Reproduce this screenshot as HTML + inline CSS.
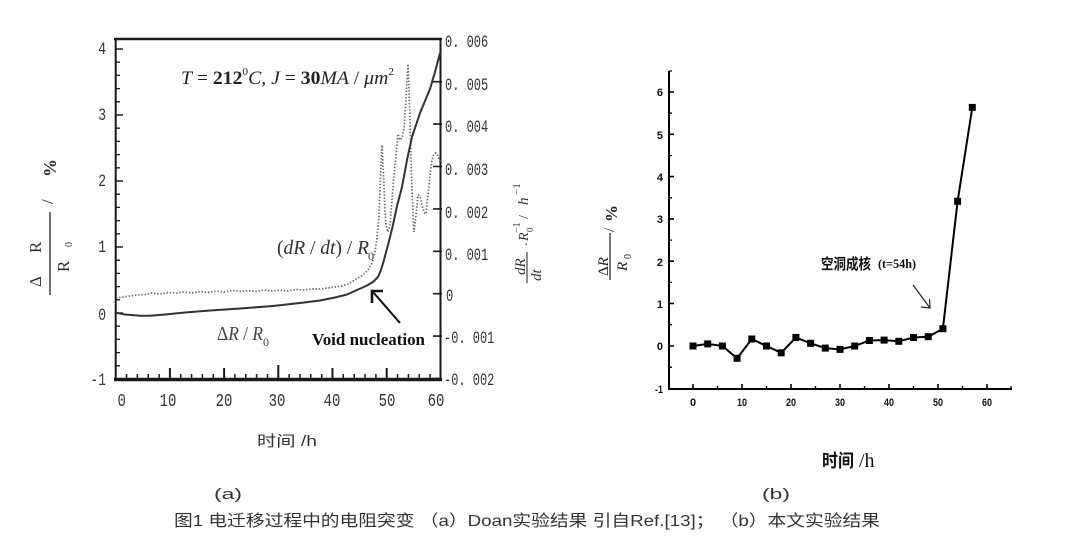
<!DOCTYPE html>
<html><head><meta charset="utf-8">
<style>
html,body{margin:0;padding:0;background:#fff;}
svg{display:block;}
.mono{font-family:"Liberation Mono","Noto Sans CJK SC",monospace;fill:#333;}
.ser{font-family:"Liberation Serif","Noto Serif CJK SC",serif;}
.cjk{font-family:"Liberation Sans","Noto Sans CJK SC",sans-serif;}
</style></head>
<body>
<svg width="1080" height="549" viewBox="0 0 1080 549" xmlns="http://www.w3.org/2000/svg">
<rect width="1080" height="549" fill="#fff"/>

<!-- ================= LEFT PANEL ================= -->
<g stroke="#1a1a1a" fill="none">
  <line x1="114" y1="39" x2="442" y2="39" stroke-width="2.6"/>
  <line x1="115.7" y1="38" x2="115.7" y2="381" stroke-width="2"/>
  <line x1="440.5" y1="38" x2="440.5" y2="381" stroke-width="2"/>
  <line x1="114" y1="379.5" x2="442" y2="379.5" stroke-width="3.4"/>
  <path stroke-width="1.6" d="M116 49h7M116 115h7M116 181h7M116 247h7M116 313h7"/>
  <path stroke-width="1.3" d="M116 365.8h4M116 352.6h4M116 339.4h4M116 326.2h4M116 299.8h4M116 286.6h4M116 273.4h4M116 260.2h4M116 233.8h4M116 220.6h4M116 207.4h4M116 194.2h4M116 167.8h4M116 154.6h4M116 141.4h4M116 128.2h4M116 101.8h4M116 88.6h4M116 75.4h4M116 62.2h4"/>
  <path stroke-width="2" d="M169.9 378v-10M224.1 378v-10M278.3 378v-13M332.5 378v-10M386.7 378v-10"/>
  <path stroke-width="1.5" d="M126.5 378v-4M137.4 378v-4M148.2 378v-4M159.1 378v-4M180.7 378v-4M191.6 378v-4M202.4 378v-4M213.3 378v-4M234.9 378v-4M245.8 378v-4M256.6 378v-4M267.5 378v-4M289.1 378v-4M300 378v-4M310.8 378v-4M321.7 378v-4M343.3 378v-4M354.2 378v-4M365 378v-4M375.9 378v-4M397.5 378v-4M408.4 378v-4M419.2 378v-4M430.1 378v-4"/>
  <path stroke-width="1.6" d="M433 378.5h9M433 336.1h9M433 293.7h9M433 251.3h9M433 208.9h9M433 166.5h9M433 124.1h9M433 81.7h9"/>
</g>

<g class="mono" font-size="13" text-anchor="end">
  <text transform="translate(106,54) scale(1,1.35)">4</text>
  <text transform="translate(106,120) scale(1,1.35)">3</text>
  <text transform="translate(106,186) scale(1,1.35)">2</text>
  <text transform="translate(106,252) scale(1,1.35)">1</text>
  <text transform="translate(106,320) scale(1,1.35)">0</text>
  <text transform="translate(106,385) scale(1,1.35)">-1</text>
</g>
<g class="mono" font-size="14" text-anchor="middle">
  <text transform="translate(121.7,406) scale(1,1.3)">0</text>
  <text transform="translate(168,406) scale(1,1.3)">10</text>
  <text transform="translate(224,406) scale(1,1.3)">20</text>
  <text transform="translate(277,406) scale(1,1.3)">30</text>
  <text transform="translate(332,406) scale(1,1.3)">40</text>
  <text transform="translate(387,406) scale(1,1.3)">50</text>
  <text transform="translate(436,406) scale(1,1.3)">60</text>
</g>
<g class="mono" font-size="12">
  <text transform="translate(445,47) scale(1,1.5)">0. 006</text>
  <text transform="translate(445,90) scale(1,1.5)">0. 005</text>
  <text transform="translate(445,132) scale(1,1.5)">0. 004</text>
  <text transform="translate(445,175) scale(1,1.5)">0. 003</text>
  <text transform="translate(445,218) scale(1,1.5)">0. 002</text>
  <text transform="translate(445,260) scale(1,1.5)">0. 001</text>
  <text transform="translate(446,301) scale(1,1.5)">0</text>
  <text transform="translate(444,343) scale(1,1.5)">-0. 001</text>
  <text transform="translate(444,385) scale(1,1.5)">-0. 002</text>
</g>

<text class="cjk" x="257" y="446" font-size="15" fill="#333" textLength="60" lengthAdjust="spacingAndGlyphs">时间 /h</text>

<g transform="translate(50,295) rotate(-90)" class="ser" fill="#333">
  <line x1="0" y1="0" x2="83" y2="0" stroke="#444" stroke-width="1.5"/>
  <text x="8" y="-9" font-size="17">Δ</text>
  <text x="42" y="-9" font-size="17">R</text>
  <text x="23" y="19" font-size="17">R</text>
  <text x="48" y="22" font-size="10">0</text>
  <text x="91" y="3" font-size="17">/</text>
  <text x="118" y="6" font-size="18" font-weight="bold">%</text>
</g>

<g transform="translate(527,283) rotate(-90)" class="ser" fill="#333">
  <line x1="0" y1="0" x2="31" y2="0" stroke="#444" stroke-width="1.2"/>
  <text x="8" y="-2" font-size="15" font-style="italic">dR</text>
  <text x="2" y="14" font-size="15" font-style="italic">dt</text>
  <text x="37" y="0" font-size="14">.</text>
  <text x="42" y="1" font-size="14" font-style="italic">R</text>
  <text x="51" y="6" font-size="9">0</text>
  <text x="50" y="-7" font-size="10">−1</text>
  <text x="64" y="1" font-size="14">/</text>
  <text x="78" y="1" font-size="15" font-style="italic">h</text>
  <text x="88" y="-7" font-size="11">−1</text>
</g>

<text class="ser" x="181" y="84" font-size="19" fill="#222" textLength="213" lengthAdjust="spacingAndGlyphs"><tspan font-style="italic">T</tspan> = <tspan font-weight="bold">212</tspan><tspan dy="-9" font-size="11">0</tspan><tspan dy="9" font-style="italic">C</tspan>, <tspan font-style="italic">J</tspan> = <tspan font-weight="bold">30</tspan><tspan font-style="italic">MA</tspan> / <tspan font-style="italic">μm</tspan><tspan dy="-9" font-size="11">2</tspan></text>

<text class="ser" x="277" y="254" font-size="20" fill="#333" textLength="92" lengthAdjust="spacingAndGlyphs">(<tspan font-style="italic">dR</tspan> / <tspan font-style="italic">dt</tspan>) / <tspan font-style="italic">R</tspan></text>
<text class="ser" x="368" y="260" font-size="12" fill="#333">0</text>

<text class="ser" x="217" y="340" font-size="20" fill="#444" textLength="46" lengthAdjust="spacingAndGlyphs">Δ<tspan font-style="italic">R</tspan> / <tspan font-style="italic">R</tspan></text>
<text class="ser" x="263" y="346" font-size="12" fill="#444">0</text>

<text class="ser" x="312" y="345" font-size="17" font-weight="bold" fill="#111" textLength="113" lengthAdjust="spacingAndGlyphs">Void nucleation</text>
<g stroke="#111" fill="none">
  <line x1="400" y1="323" x2="373" y2="292" stroke-width="2"/>
  <polyline points="372,303 372,291 383,291" stroke-width="2.6"/>
</g>

<polyline fill="none" stroke="#666" stroke-width="1.7" stroke-dasharray="1.4 1.8"
 points="116,298 123,297 130,296 137,295 145,294.5 152,293 160,294 168,292.5 176,293 184,292 192,293 200,291.5 208,292.5 216,291 224,292 232,290.5 240,291.5 248,290.5 256,291.5 264,290 272,291 280,290 288,291 296,289.5 304,290 312,289 320,289 328,288 335,287 342,286 348,284 353,281 358,278 363,275 368,270 372,263 375,252 377,238 379,215 380,190 381,165 382,145 383.5,175 385,210 386,226 388,232 390,225 392,200 394,175 396,155 398,134 400,140 402,138 404,128 406,100 407,80 408,64 409,90 410,120 411,160 412,190 413,215 414,232 416,215 418,195 420,196 422,205 424,212 426,214 428,195 430,175 432,160 434,154 436,153 438,156 440,162"/>

<polyline fill="none" stroke="#333" stroke-width="2" stroke-linejoin="round"
 points="115.7,312.7 125,314.5 140,315.8 150,315.8 165,314.5 185,312.5 210,310.5 240,308.5 273,306 300,303 320,300.5 335,297.5 347,294.5 357,290 366,286 373,282 378,277 381,270 384,260 388,245 393,225 397,206 402,187 407,160 412,137 416,125 420,113 425,101 430,89 435,72 440,53"/>

<!-- ================= RIGHT PANEL ================= -->
<g stroke="#000" fill="none">
  <line x1="669" y1="71" x2="669" y2="390" stroke-width="2"/>
  <line x1="668" y1="389" x2="1012" y2="389" stroke-width="2"/>
  <path stroke-width="1.6" d="M669 92h5M669 134.3h5M669 176.6h5M669 218.9h5M669 261.2h5M669 303.5h5M669 346h5"/>
  <path stroke-width="1.3" d="M669 71h3M669 113.2h3M669 155.5h3M669 197.8h3M669 240.1h3M669 282.4h3M669 324.7h3M669 367.2h3"/>
  <path stroke-width="1.6" d="M693 389v-5M742 389v-5M791 389v-5M840 389v-5M889 389v-5M938 389v-5M987 389v-5"/>
  <path stroke-width="1.3" d="M717.5 389v-3M766.5 389v-3M815.5 389v-3M864.5 389v-3M913.5 389v-3M962.5 389v-3M1011 389v-3"/>
</g>

<g font-family="Liberation Sans, sans-serif" font-weight="bold" font-size="11" fill="#111" text-anchor="end">
  <text x="663" y="96">6</text>
  <text x="663" y="139">5</text>
  <text x="663" y="181">4</text>
  <text x="663" y="223">3</text>
  <text x="663" y="266">2</text>
  <text x="663" y="308">1</text>
  <text x="663" y="350">0</text>
  <text x="663" y="393" textLength="8" lengthAdjust="spacingAndGlyphs">-1</text>
</g>
<g font-family="Liberation Sans, sans-serif" font-weight="bold" font-size="11" fill="#111" text-anchor="middle">
  <text x="693" y="406">0</text>
  <text x="742" y="406" textLength="10" lengthAdjust="spacingAndGlyphs">10</text>
  <text x="791" y="406" textLength="10" lengthAdjust="spacingAndGlyphs">20</text>
  <text x="840" y="406" textLength="10" lengthAdjust="spacingAndGlyphs">30</text>
  <text x="889" y="406" textLength="10" lengthAdjust="spacingAndGlyphs">40</text>
  <text x="938" y="406" textLength="10" lengthAdjust="spacingAndGlyphs">50</text>
  <text x="987" y="406" textLength="10" lengthAdjust="spacingAndGlyphs">60</text>
</g>

<polyline fill="none" stroke="#000" stroke-width="2" stroke-linejoin="round"
 points="693,346 707.7,343.9 722.4,346 737.1,358.3 751.8,339 766.5,346 781.2,352.8 795.9,337.5 810.6,343.3 825.3,348.1 840,349.4 854.7,346 869.4,340.5 884.1,340.1 898.8,341.3 913.5,337.5 928.2,336.7 942.9,328.7 957.6,201.3 972.3,107.4"/>
<g fill="#000">
  <rect x="689.5" y="342.5" width="7" height="7"/>
  <rect x="704.2" y="340.4" width="7" height="7"/>
  <rect x="718.9" y="342.5" width="7" height="7"/>
  <rect x="733.6" y="354.8" width="7" height="7"/>
  <rect x="748.3" y="335.5" width="7" height="7"/>
  <rect x="763" y="342.5" width="7" height="7"/>
  <rect x="777.7" y="349.3" width="7" height="7"/>
  <rect x="792.4" y="334" width="7" height="7"/>
  <rect x="807.1" y="339.8" width="7" height="7"/>
  <rect x="821.8" y="344.6" width="7" height="7"/>
  <rect x="836.5" y="345.9" width="7" height="7"/>
  <rect x="851.2" y="342.5" width="7" height="7"/>
  <rect x="865.9" y="337" width="7" height="7"/>
  <rect x="880.6" y="336.6" width="7" height="7"/>
  <rect x="895.3" y="337.8" width="7" height="7"/>
  <rect x="910" y="334" width="7" height="7"/>
  <rect x="924.7" y="333.2" width="7" height="7"/>
  <rect x="939.4" y="325.2" width="7" height="7"/>
  <rect x="954.1" y="197.8" width="7" height="7"/>
  <rect x="968.8" y="103.9" width="7" height="7"/>
</g>

<text x="821" y="269" font-family="Liberation Sans, 'Noto Sans CJK SC', sans-serif" font-weight="bold" font-size="15" fill="#111" textLength="50" lengthAdjust="spacingAndGlyphs">空洞成核</text>
<text x="878" y="268" font-family="Liberation Serif, serif" font-weight="bold" font-size="13" fill="#111" textLength="38" lengthAdjust="spacingAndGlyphs">(t=54h)</text>
<g stroke="#222" fill="none" stroke-width="1.2">
  <line x1="913" y1="285" x2="930" y2="308"/>
  <polyline points="921,307 930,308 929.5,299"/>
</g>

<g transform="translate(610,280) rotate(-90)" class="ser" fill="#222">
  <line x1="0" y1="0" x2="47" y2="0" stroke="#333" stroke-width="1.3"/>
  <text x="4" y="-2" font-size="15">Δ<tspan font-style="italic">R</tspan></text>
  <text x="9" y="17" font-size="15" font-style="italic">R</text>
  <text x="21" y="21" font-size="10">0</text>
  <text x="48" y="4" font-size="15">/</text>
  <text x="58" y="7" font-size="17" font-weight="bold">%</text>
</g>

<text x="822" y="467" font-family="Liberation Sans, 'Noto Sans CJK SC', sans-serif" font-weight="bold" font-size="18" fill="#111" textLength="32" lengthAdjust="spacingAndGlyphs">时间</text>
<text x="859" y="467" class="ser" font-size="20" fill="#111">/h</text>

<text class="cjk" x="214" y="499" font-size="15" fill="#333" textLength="28" lengthAdjust="spacingAndGlyphs">(a)</text>
<text class="cjk" x="762" y="499" font-size="15" fill="#333" textLength="28" lengthAdjust="spacingAndGlyphs">(b)</text>
<text class="cjk" x="174" y="526" font-size="16" fill="#333" textLength="706" lengthAdjust="spacingAndGlyphs">图1 电迁移过程中的电阻突变 （a）Doan实验结果 引自Ref.[13]； （b）本文实验结果</text>
</svg>
</body></html>
